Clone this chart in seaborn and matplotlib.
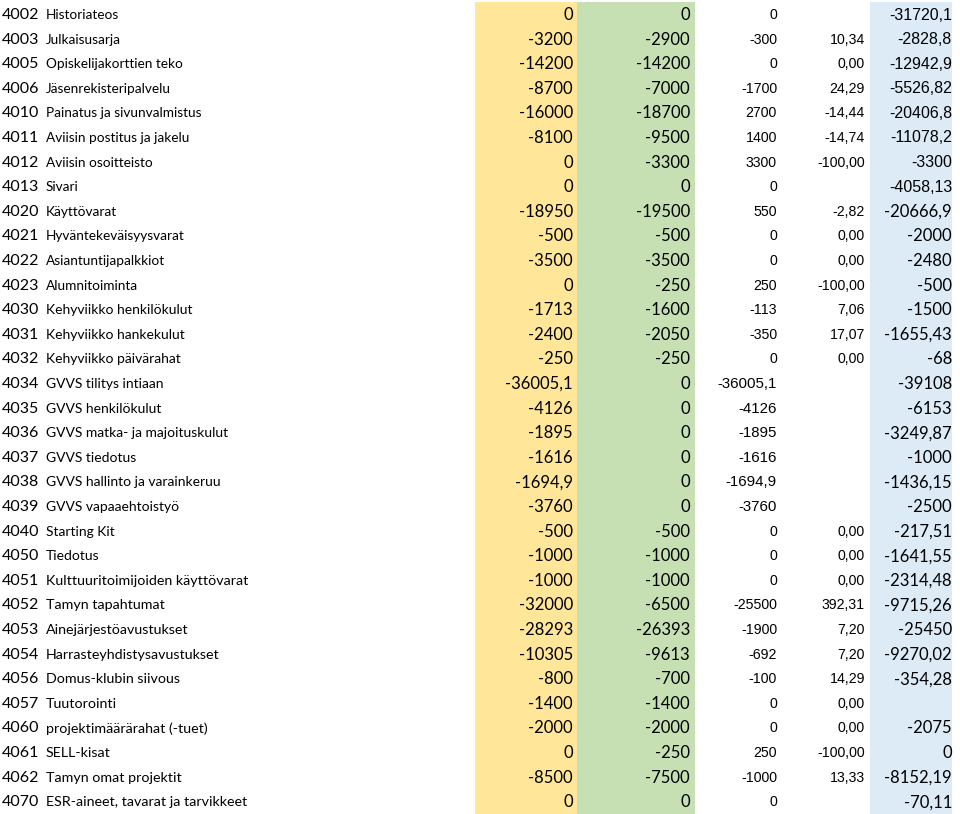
import matplotlib
matplotlib.use("Agg")
import matplotlib.pyplot as plt
import seaborn as sns

# ---------------- data ----------------
codes = [4002, 4003, 4005, 4006, 4010, 4011, 4012, 4013, 4020, 4021, 4022, 4023,
         4030, 4031, 4032, 4034, 4035, 4036, 4037, 4038, 4039, 4040, 4050, 4051,
         4052, 4053, 4054, 4056, 4057, 4060, 4061, 4062, 4070]
names = ["Historiateos", "Julkaisusarja", "Opiskelijakorttien teko", "Jäsenrekisteripalvelu",
         "Painatus ja sivunvalmistus", "Aviisin postitus ja jakelu", "Aviisin osoitteisto",
         "Sivari", "Käyttövarat", "Hyväntekeväisyysvarat", "Asiantuntijapalkkiot",
         "Alumnitoiminta", "Kehyviikko henkilökulut", "Kehyviikko hankekulut",
         "Kehyviikko päivärahat", "GVVS tilitys intiaan", "GVVS henkilökulut",
         "GVVS matka- ja majoituskulut", "GVVS tiedotus", "GVVS hallinto ja varainkeruu",
         "GVVS vapaaehtoistyö", "Starting Kit", "Tiedotus", "Kulttuuritoimijoiden käyttövarat",
         "Tamyn tapahtumat", "Ainejärjestöavustukset", "Harrasteyhdistysavustukset",
         "Domus-klubin siivous", "Tuutorointi", "projektimäärärahat (-tuet)", "SELL-kisat",
         "Tamyn omat projektit", "ESR-aineet, tavarat ja tarvikkeet"]
budget_new = [0, -3200, -14200, -8700, -16000, -8100, 0, 0, -18950, -500, -3500, 0,
              -1713, -2400, -250, -36005.1, -4126, -1895, -1616, -1694.9, -3760, -500,
              -1000, -1000, -32000, -28293, -10305, -800, -1400, -2000, 0, -8500, 0]
budget_old = [0, -2900, -14200, -7000, -18700, -9500, -3300, 0, -19500, -500, -3500, -250,
              -1600, -2050, -250, 0, 0, 0, 0, 0, 0, -500, -1000, -1000, -6500, -26393,
              -9613, -700, -1400, -2000, -250, -7500, 0]
difference = [0, -300, 0, -1700, 2700, 1400, 3300, 0, 550, 0, 0, 250, -113, -350, 0,
              -36005.1, -4126, -1895, -1616, -1694.9, -3760, 0, 0, 0, -25500, -1900, -692,
              -100, 0, 0, 250, -1000, 0]
change_pct = [None, 10.34, 0.00, 24.29, -14.44, -14.74, -100.00, None, -2.82, 0.00, 0.00,
              -100.00, 7.06, 17.07, 0.00, None, None, None, None, None, None, 0.00, 0.00,
              0.00, 392.31, 7.20, 7.20, 14.29, 0.00, 0.00, -100.00, 13.33, None]
realized = [-31720.1, -2828.8, -12942.9, -5526.82, -20406.8, -11078.2, -3300, -4058.13,
            -20666.9, -2000, -2480, -500, -1500, -1655.43, -68, -39108, -6153, -3249.87,
            -1000, -1436.15, -2500, -217.51, -1641.55, -2314.48, -9715.26, -25450,
            -9270.02, -354.28, None, -2075, 0, -8152.19, -70.11]

# ---------------- style ----------------
sns.set_theme(style="white")
plt.rcParams['font.family'] = ['Lato', 'DejaVu Sans']

CAL = 'Lato'
ARIAL = 'Liberation Sans'
YELLOW = '#FFE699'
GREEN = '#C6E0B4'
BLUE = '#DDEBF7'


def fmt(v):
    if v is None:
        return ""
    if float(v).is_integer():
        return str(int(v))
    return repr(float(v)).replace('.', ',')


def fmt_pct(v):
    if v is None:
        return ""
    return f"{v:.2f}".replace('.', ',')


W, H = 960, 814
fig = plt.figure(figsize=(W / 100, H / 100), dpi=100)
ax = fig.add_axes([0, 0, 1, 1])
pitch = 24.6
first = 15.0
ax.set_xlim(0, W)
ax.set_ylim((H - first) / pitch, -first / pitch)
ax.axis('off')

top_frac = 1 - 2 / H
for x0, x1, c in [(475, 577, YELLOW), (577, 695, GREEN), (870, 952, BLUE)]:
    ax.axvspan(x0, x1, ymin=0, ymax=top_frac, color=c, lw=0, zorder=0)


def name_size(i):
    if i <= 11:
        return 9.8
    if i >= 23:
        return 10.3
    return 10.0


for i in range(len(codes)):
    ax.text(2, i, str(codes[i]), ha='left', va='center', fontsize=11.5,
            family=CAL, color='black')
    ax.text(46, i, names[i], ha='left', va='center', fontsize=name_size(i),
            family=CAL, color='black')
    ax.text(573, i, fmt(budget_new[i]), ha='right', va='center', fontsize=12,
            family=CAL, color='black')
    ax.text(690, i, fmt(budget_old[i]), ha='right', va='center', fontsize=12,
            family=CAL, color='black')
    ax.text(777, i, fmt(difference[i]), ha='right', va='center',
            fontsize=10.8 if 15 <= i <= 20 else 10.2,
            family=ARIAL, color='black')
    ax.text(865, i, fmt_pct(change_pct[i]), ha='right', va='center', fontsize=10.2,
            family=ARIAL, color='black')
    if i <= 7:
        ax.text(952, i, fmt(realized[i]), ha='right', va='center', fontsize=11.5,
                family=ARIAL, color='black')
    else:
        ax.text(952, i, fmt(realized[i]), ha='right', va='center', fontsize=12,
                family=CAL, color='black')

fig.savefig("out.png", dpi=100)
